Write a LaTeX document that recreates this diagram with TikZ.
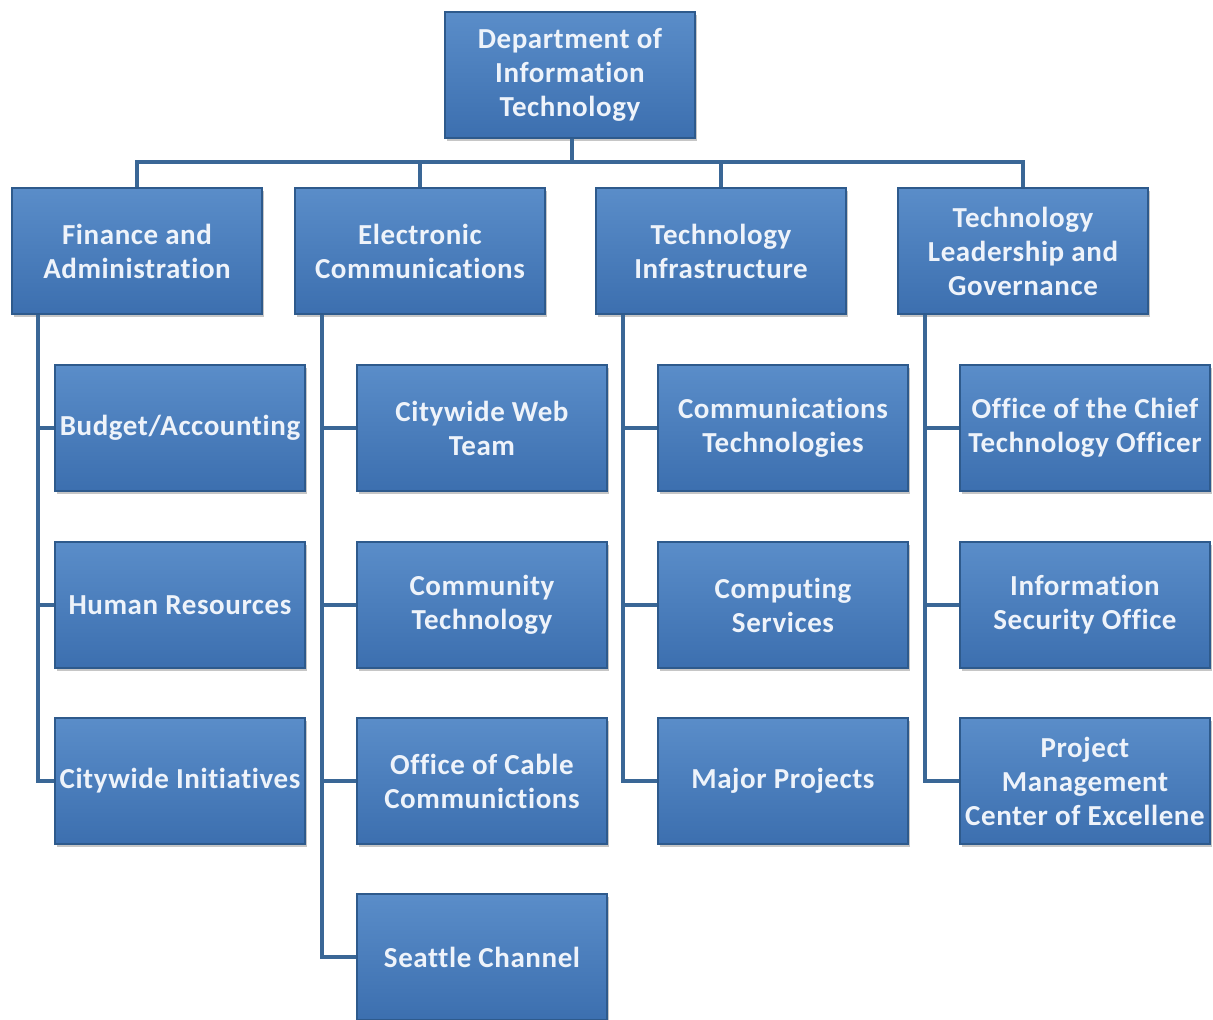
\documentclass[tikz,border=0pt]{standalone}
\usepackage{fontspec}
\setmainfont{Carlito}[LetterSpace=2,Ligatures=NoCommon]
\usetikzlibrary{shadows}
\definecolor{boxtop}{HTML}{5A8DC9}
\definecolor{boxbot}{HTML}{3C6FAF}
\definecolor{boxline}{HTML}{2E5A8C}
\definecolor{wire}{HTML}{3A6796}
\definecolor{boxtext}{HTML}{EEF3FA}
\tikzset{
  unit/.style={draw=boxline, line width=1.5pt, top color=boxtop, bottom color=boxbot,
    minimum width=250pt, minimum height=126pt, inner sep=0pt, align=center,
    text=boxtext, font=\fontsize{29}{34}\selectfont\bfseries,
    drop shadow={opacity=0.45, shadow xshift=2pt, shadow yshift=-3pt}},
  wire/.style={draw=wire, line width=4.5pt}
}
\begin{document}
\begin{tikzpicture}[x=1pt, y=-1pt]
  \useasboundingbox (0,0) rectangle (1213,1020);
  % connectors first, boxes on top
  \coordinate (bar) at (572,162);
  \coordinate (finl) at (38,315);
  \coordinate (ecl) at (322,315);
  \coordinate (til) at (623,315);
  \coordinate (tlgl) at (925,315);
  \path
    (570,75) node[unit] (dit) {Department of\\Information\\Technology}
    (137,251) node[unit] (fin) {Finance and\\Administration}
    (420,251) node[unit] (ec) {Electronic\\Communications}
    (721,251) node[unit] (ti) {Technology\\Infrastructure}
    (1023,251) node[unit] (tlg) {Technology\\Leadership and\\Governance};
  \begin{scope}[wire]
    \draw (dit.south -| bar) -- (bar);
    \draw (bar) -| (fin.north);
    \draw (bar) -| (ec.north);
    \draw (bar) -| (ti.north);
    \draw (bar) -| (tlg.north);
  \end{scope}
  \path
    (180,428) node[unit] (bud) {Budget/Accounting}
    (180,605) node[unit] (hr) {Human Resources}
    (180,781) node[unit] (cwi) {Citywide Initiatives}
    (482,428) node[unit] (web) {Citywide Web\\Team}
    (482,605) node[unit] (ct) {Community\\Technology}
    (482,781) node[unit] (cable) {Office of Cable\\Communictions}
    (482,957) node[unit] (sc) {Seattle Channel}
    (783,428) node[unit] (comt) {Communications\\Technologies}
    (783,605) node[unit] (cs) {Computing\\Services}
    (783,781) node[unit] (mp) {Major Projects}
    (1085,428) node[unit] (cto) {Office of the Chief\\Technology Officer}
    (1085,605) node[unit] (iso) {Information\\Security Office}
    (1085,781) node[unit] (pmc) {Project\\Management\\Center of Excellene};
  \begin{scope}[wire]
    \draw (finl) |- (bud.west);
    \draw (finl) |- (hr.west);
    \draw (finl) |- (cwi.west);
    \draw (ecl) |- (web.west);
    \draw (ecl) |- (ct.west);
    \draw (ecl) |- (cable.west);
    \draw (ecl) |- (sc.west);
    \draw (til) |- (comt.west);
    \draw (til) |- (cs.west);
    \draw (til) |- (mp.west);
    \draw (tlgl) |- (cto.west);
    \draw (tlgl) |- (iso.west);
    \draw (tlgl) |- (pmc.west);
  \end{scope}
\end{tikzpicture}
\end{document}
